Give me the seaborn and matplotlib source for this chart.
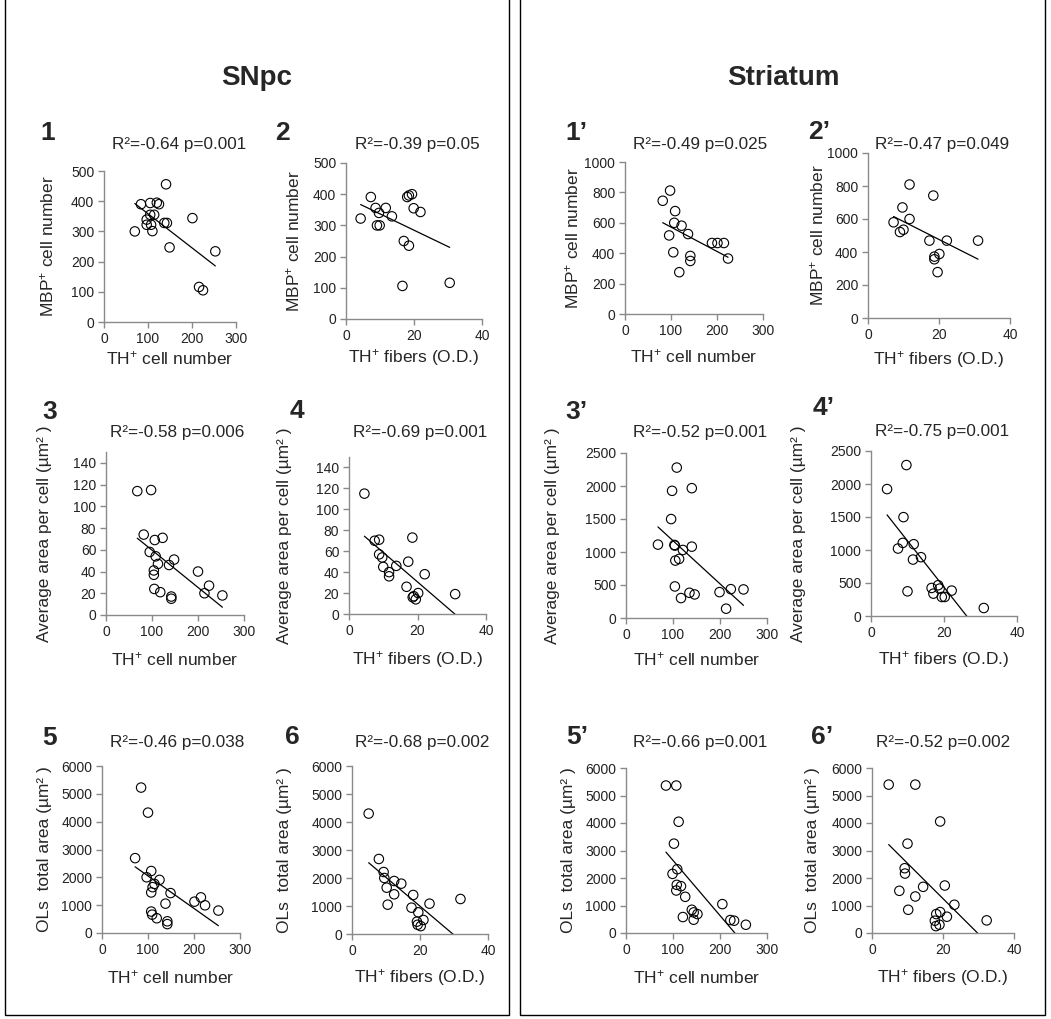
import numpy as np
import matplotlib
matplotlib.use("Agg")
import matplotlib.pyplot as plt
from matplotlib.patches import Rectangle
import seaborn as sns

W, H = 1051, 1019

# SNpc
x_p1 = [70, 84, 105, 97, 97, 107, 110, 105, 114, 120, 125, 141, 137, 143, 149, 201, 253, 216, 225]
y_p1 = [300, 390, 394, 339, 322, 322, 301, 355, 355, 395, 390, 456, 328, 328, 247, 344, 234, 116, 105]

x_p2 = [4.3, 7.3, 8.7, 9.1, 9.7, 9.9, 11.7, 13.5, 17, 16.6, 18.5, 18, 18.5, 19.4, 19.9, 21.9, 30.5]
y_p2 = [322, 391, 356, 300, 340, 300, 356, 329, 250, 106, 235, 391, 396, 400, 355, 343, 116]

x_p3 = [68, 98, 82, 106, 123, 95, 108, 113, 104, 104, 105, 118, 137, 148, 142, 142, 200, 214, 224, 253]
y_p3 = [114, 115, 74, 69, 71, 58, 54, 47, 41, 37, 24, 21, 46, 51, 17, 15, 40, 20, 27, 18]

x_p4 = [4.5, 7.5, 8.8, 8.8, 9.7, 10, 11.7, 11.7, 13.8, 17.3, 18.5, 16.8, 18.6, 18.9, 19.5, 20.2, 22.1, 31]
y_p4 = [115, 70, 71, 57, 54, 45, 40, 36, 46, 50, 73, 26, 16, 17, 14, 20, 38, 19]

x_p5 = [85, 100, 72, 107, 97, 125, 114, 110, 107, 149, 138, 201, 215, 224, 253, 107, 109, 119, 142, 142]
y_p5 = [5225, 4325, 2690, 2227, 2002, 1908, 1765, 1647, 1457, 1434, 1055, 1126, 1280, 995, 806, 770, 660, 530, 420, 320]

x_p6 = [4.9, 7.9, 9.3, 9.5, 12.4, 14.5, 10.2, 12.4, 18, 10.5, 22.8, 31.9, 17.5, 19.5, 21, 19.1, 19.3, 20.2]
y_p6 = [4300, 2679, 2214, 2000, 1893, 1798, 1655, 1417, 1393, 1048, 1083, 1250, 940, 774, 500, 440, 330, 280]

# Striatum
x_p1s = [82, 98, 96, 105, 109, 107, 123, 137, 142, 142, 118, 189, 201, 215, 224]
y_p1s = [745, 812, 517, 406, 677, 600, 581, 526, 382, 349, 275, 467, 467, 467, 365]

x_p2s = [7.2, 9.0, 10.0, 9.7, 11.7, 11.7, 18.4, 17.3, 22.2, 31, 18.7, 18.7, 20.1, 19.6]
y_p2s = [580, 521, 535, 670, 809, 600, 742, 469, 469, 469, 372, 356, 388, 278]

x_p3s = [108, 98, 140, 96, 68, 103, 104, 121, 140, 105, 113, 104, 117, 135, 146, 199, 223, 250, 213]
y_p3s = [2279, 1927, 1967, 1499, 1112, 1107, 1097, 1031, 1081, 870, 895, 478, 302, 382, 357, 392, 437, 433, 141]

x_p4s = [9.7, 4.4, 8.9, 7.4, 8.7, 11.7, 11.5, 13.7, 10, 16.6, 17.1, 18.4, 18.8, 19.4, 20.2, 22.1, 30.9]
y_p4s = [2287, 1923, 1498, 1022, 1108, 1088, 855, 891, 374, 425, 339, 466, 415, 288, 288, 385, 121]

x_p5s = [85, 107, 112, 102, 109, 99, 108, 117, 107, 126, 140, 144, 152, 121, 144, 205, 222, 230, 255]
y_p5s = [5362, 5362, 4046, 3249, 2319, 2150, 1751, 1703, 1546, 1316, 845, 749, 688, 580, 483, 1050, 471, 447, 300]

x_p6s = [4.7, 12.2, 19.2, 10, 9.2, 9.3, 7.7, 14.4, 12.2, 20.5, 23.2, 10.2, 18.1, 19.2, 21.1, 17.7, 32.3, 19.0, 18.0]
y_p6s = [5396, 5396, 4056, 3249, 2355, 2162, 1534, 1679, 1328, 1727, 1027, 845, 688, 761, 592, 447, 459, 300, 250]

stats = ["R\u00b2=-0.64 p=0.001", "R\u00b2=-0.39 p=0.05", "R\u00b2=-0.58 p=0.006",
         "R\u00b2=-0.69 p=0.001", "R\u00b2=-0.46 p=0.038", "R\u00b2=-0.68 p=0.002",
         "R\u00b2=-0.49 p=0.025", "R\u00b2=-0.47 p=0.049", "R\u00b2=-0.52 p=0.001",
         "R\u00b2=-0.75 p=0.001", "R\u00b2=-0.66 p=0.001", "R\u00b2=-0.52 p=0.002"]
numbers = ["1", "2", "3", "4", "5", "6", "1\u2019", "2\u2019", "3\u2019", "4\u2019", "5\u2019", "6\u2019"]

xlab_cells = r"TH$^{+}$ cell number"
xlab_fib = r"TH$^{+}$ fibers (O.D.)"
ylab_mbp = r"MBP$^{+}$ cell number"
ylab_area = "Average area per cell (\u00b5m\u00b2 )"
ylab_ols = "OLs  total area (\u00b5m\u00b2 )"

sns.set_theme(style="ticks")
plt.rcParams["font.family"] = ["Liberation Sans", "DejaVu Sans"]
plt.rcParams["mathtext.fontset"] = "custom"
plt.rcParams["mathtext.rm"] = "Liberation Sans"
plt.rcParams["mathtext.it"] = "Liberation Sans:italic"
plt.rcParams["mathtext.bf"] = "Liberation Sans:bold"

fig = plt.figure(figsize=(W / 100, H / 100), dpi=100)

# (x, y, box l,t,r,b in px, kind, ylim, yticks, ylabel, ylabel x, xlabel y, number pos, stat pos)
panels = [
    (x_p1, y_p1, (104, 171, 236, 322), "cells", 500, np.arange(0, 501, 100), ylab_mbp, 47, 358, (40, 133), (179, 144)),
    (x_p2, y_p2, (346, 163, 482, 319), "fib", 500, np.arange(0, 501, 100), ylab_mbp, 293, 358, (275, 133), (417, 144)),
    (x_p3, y_p3, (106, 452, 244, 615), "cells", 150, np.arange(0, 141, 20), ylab_area, 45, 659, (42, 412), (177, 433)),
    (x_p4, y_p4, (349, 457, 486, 614), "fib", 150, np.arange(0, 141, 20), ylab_area, 285, 659, (290, 411), (420, 433)),
    (x_p5, y_p5, (102, 766, 240, 933), "cells", 6000, np.arange(0, 6001, 1000), ylab_ols, 45, 977, (42, 738), (177, 743)),
    (x_p6, y_p6, (352, 766, 488, 934), "fib", 6000, np.arange(0, 6001, 1000), ylab_ols, 285, 977, (285, 737), (422, 743)),
    (x_p1s, y_p1s, (625, 162, 763, 314), "cells", 1000, np.arange(0, 1001, 200), ylab_mbp, 572, 356, (565, 133), (700, 144)),
    (x_p2s, y_p2s, (868, 153, 1010, 318), "fib", 1000, np.arange(0, 1001, 200), ylab_mbp, 817, 360, (808, 132), (942, 144)),
    (x_p3s, y_p3s, (626, 453, 767, 618), "cells", 2500, np.arange(0, 2501, 500), ylab_area, 553, 659, (565, 412), (700, 433)),
    (x_p4s, y_p4s, (871, 451, 1017, 616), "fib", 2500, np.arange(0, 2501, 500), ylab_area, 798, 659, (813, 408), (942, 432)),
    (x_p5s, y_p5s, (626, 768, 767, 933), "cells", 6000, np.arange(0, 6001, 1000), ylab_ols, 568, 977, (566, 737), (700, 743)),
    (x_p6s, y_p6s, (872, 768, 1014, 933), "fib", 6000, np.arange(0, 6001, 1000), ylab_ols, 813, 977, (811, 737), (943, 743)),
]

spine_col = "#8a8a8a"
for i, (xs, ys, box, kind, ymax, yt, ylab, ylx, xly, npos, spos) in enumerate(panels):
    l, t, r, b = box
    ax = fig.add_axes([l / W, 1 - b / H, (r - l) / W, (b - t) / H])
    sns.regplot(x=np.array(xs, float), y=np.array(ys, float), ax=ax, ci=None, truncate=True,
                scatter_kws=dict(s=46, facecolors="none", edgecolors="black", linewidths=0.8, alpha=1),
                line_kws=dict(color="black", lw=0.9))
    if kind == "cells":
        ax.set_xlim(0, 300)
        ax.set_xticks([0, 100, 200, 300])
        xlab = xlab_cells
    else:
        ax.set_xlim(0, 40)
        ax.set_xticks([0, 20, 40])
        xlab = xlab_fib
    ax.set_ylim(0, ymax)
    ax.set_yticks(yt)
    sns.despine(ax=ax)
    for s in ["left", "bottom"]:
        ax.spines[s].set_color(spine_col)
        ax.spines[s].set_linewidth(1.0)
    ax.tick_params(axis="both", direction="out", length=4, width=1, color=spine_col,
                   labelsize=10, labelcolor="#222222", pad=3)
    ax.set_xlabel(xlab, fontsize=12.5, va="center")
    ax.xaxis.set_label_coords((l + r) / 2 / W, 1 - xly / H, transform=fig.transFigure)
    ax.set_ylabel(ylab, fontsize=12.5, va="center")
    ax.yaxis.set_label_coords(ylx / W, 1 - (t + b) / 2 / H, transform=fig.transFigure)
    fig.text(npos[0] / W, 1 - npos[1] / H, numbers[i], fontsize=19, fontweight="bold",
             ha="left", va="center")
    fig.text(spos[0] / W, 1 - spos[1] / H, stats[i], fontsize=12.3, ha="center", va="center")

fig.text(257 / W, 1 - 78 / H, "SNpc", fontsize=20, fontweight="bold", ha="center", va="center")
fig.text(783 / W, 1 - 78 / H, "Striatum", fontsize=20, fontweight="bold", ha="center", va="center")

for x0, x1 in [(5, 509), (520, 1045)]:
    fig.patches.append(Rectangle((x0 / W, 4 / H), (x1 - x0) / W, 1.2, transform=fig.transFigure,
                                 fill=False, edgecolor="black", linewidth=1.0))

fig.savefig("out.png", dpi=100)
